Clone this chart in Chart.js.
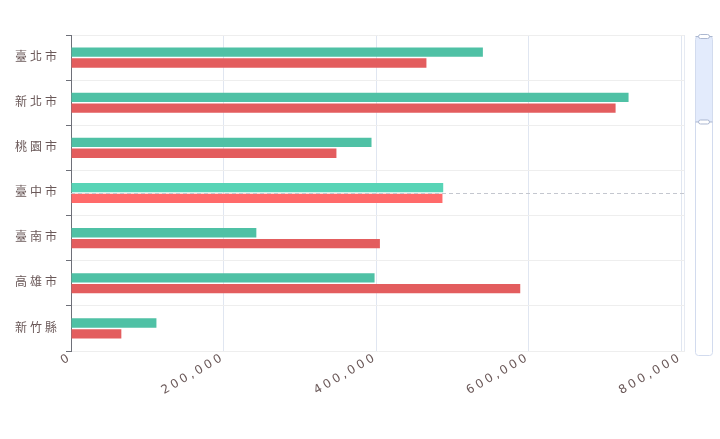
<!DOCTYPE html>
<html lang="zh-Hant">
<head>
<meta charset="utf-8">
<title>各縣市數據比較</title>
<script src="https://cdn.jsdelivr.net/npm/chart.js@4.4.1/dist/chart.umd.min.js"></script>
<style>
  html, body { margin: 0; padding: 0; background: #ffffff; }
  #wrap { width: 720px; height: 439px; position: relative; }
</style>
</head>
<body>
<div id="wrap"><canvas id="barChart"></canvas></div>
<script>
// Data
const cities = ['臺北市', '新北市', '桃園市', '臺中市', '臺南市', '高雄市', '新竹縣'];
const seriesGreen = [540000, 731000, 394000, 488000, 243000, 398000, 112000];
const seriesRed = [466000, 714000, 348000, 487000, 405000, 589000, 66000];
const xTickValues = [0, 200000, 400000, 600000, 800000];
const xMax = 805000;
const hoverCity = '臺中市';

const labelColor = '#6a5858';
const fontFamily = "'DejaVu Sans', 'Noto Sans CJK TC', sans-serif";

// Category highlighted as if hovered (lighter colours in the reference)
const hoverIndex = cities.indexOf(hoverCity);
function pickColors(normal, hover) {
    return cities.map((c, i) => (i === hoverIndex ? hover : normal));
}

// Letter spacing for axis labels (canvas state resets on resize, so set it often)
const spacingPlugin = {
    id: 'spacing',
    beforeLayout(chart) { chart.ctx.letterSpacing = '3px'; },
    beforeDraw(chart) { chart.ctx.letterSpacing = '3px'; },
    afterDraw(chart) { chart.ctx.letterSpacing = '0px'; }
};

// Dashed axis pointer across the hovered category
const pointerPlugin = {
    id: 'pointer',
    afterDatasetsDraw(chart) {
        const { ctx, chartArea, scales } = chart;
        const y = Math.round(scales.y.getPixelForValue(hoverIndex)) + 0.5;
        ctx.save();
        ctx.strokeStyle = '#c4c7cf';
        ctx.lineWidth = 1;
        ctx.setLineDash([4, 3]);
        ctx.beginPath();
        ctx.moveTo(chartArea.left, y);
        ctx.lineTo(chartArea.right, y);
        ctx.stroke();
        ctx.restore();
    }
};

// Right edge line of the grid and the vertical zoom slider
const sliderPlugin = {
    id: 'slider',
    afterDraw(chart) {
        const { ctx, chartArea } = chart;
        ctx.save();
        ctx.letterSpacing = '0px';
        // grid right edge
        ctx.strokeStyle = '#e6eaf2';
        ctx.lineWidth = 1;
        ctx.beginPath();
        ctx.moveTo(chartArea.right - 0.5, chartArea.top);
        ctx.lineTo(chartArea.right - 0.5, chartArea.bottom);
        ctx.stroke();

        const x = chartArea.right + 10.5;
        const w = 17;
        const top = chartArea.top + 1.5;
        const bottom = chartArea.bottom + 4.5;
        const fillEnd = top + (bottom - top) * 0.268;

        ctx.fillStyle = '#e3ebfc';
        ctx.fillRect(x, top, w, fillEnd - top);

        ctx.strokeStyle = '#d2dbee';
        ctx.beginPath();
        ctx.roundRect(x, top, w, bottom - top, 3);
        ctx.stroke();

        // handles
        [top, fillEnd].forEach(hy => {
            ctx.fillStyle = '#ffffff';
            ctx.strokeStyle = '#acb8d1';
            ctx.beginPath();
            ctx.roundRect(x + 3, hy - 2, w - 6, 4, 2);
            ctx.fill();
            ctx.stroke();
            ctx.beginPath();
            ctx.moveTo(x, hy);
            ctx.lineTo(x + 3, hy);
            ctx.moveTo(x + w - 3, hy);
            ctx.lineTo(x + w, hy);
            ctx.stroke();
        });
        ctx.restore();
    }
};

const ctx = document.getElementById('barChart');

new Chart(ctx, {
    type: 'bar',
    data: {
        labels: cities,
        datasets: [
            {
                label: '系列一',
                data: seriesGreen,
                backgroundColor: pickColors('#4fc1a5', '#58d4b6'),
                borderWidth: 0,
                categoryPercentage: 0.48,
                barPercentage: 0.86
            },
            {
                label: '系列二',
                data: seriesRed,
                backgroundColor: pickColors('#e35d5e', '#ff6a6a'),
                borderWidth: 0,
                categoryPercentage: 0.48,
                barPercentage: 0.86
            }
        ]
    },
    options: {
        indexAxis: 'y',
        responsive: true,
        maintainAspectRatio: false,
        animation: false,
        layout: {
            padding: { top: 35, right: 35, bottom: 0, left: 0 }
        },
        plugins: {
            legend: { display: false },
            tooltip: { enabled: false }
        },
        scales: {
            x: {
                min: 0,
                max: xMax,
                afterBuildTicks: scale => {
                    scale.ticks = xTickValues.map(v => ({ value: v }));
                },
                afterFit: scale => { scale.height = 88; },
                border: { display: false },
                grid: {
                    color: '#e0e6f1',
                    drawTicks: false
                },
                ticks: {
                    autoSkip: false,
                    minRotation: 30,
                    maxRotation: 30,
                    padding: -1,
                    color: labelColor,
                    font: { size: 12, family: fontFamily },
                    callback: value => Number(value).toLocaleString('en-US')
                }
            },
            y: {
                afterFit: scale => { scale.width = 71; },
                border: { display: true, color: '#6e7079', width: 1 },
                grid: {
                    offset: true,
                    color: '#eeeeee',
                    tickColor: '#6e7079',
                    tickLength: 5
                },
                ticks: {
                    padding: 6,
                    color: labelColor,
                    font: { size: 12, family: fontFamily }
                }
            }
        }
    },
    plugins: [spacingPlugin, pointerPlugin, sliderPlugin]
});
</script>
</body>
</html>
